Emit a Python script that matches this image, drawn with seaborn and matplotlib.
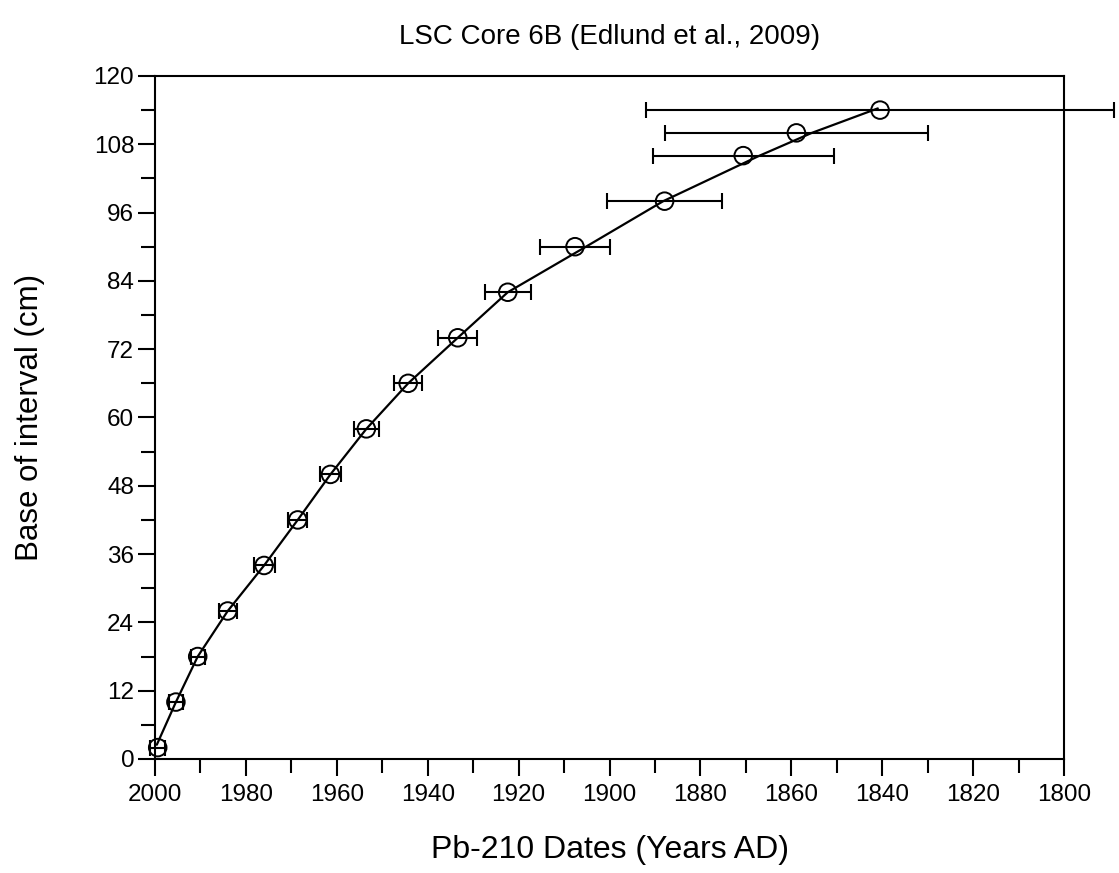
import numpy as np
import pandas as pd
import seaborn as sns
import matplotlib.pyplot as plt
from matplotlib.ticker import MultipleLocator

# Pb-210 dated intervals
depth = [2, 10, 18, 26, 34, 42, 50, 58, 66, 74, 82, 90, 98, 106, 110, 114]
year = [1999.4, 1995.4, 1990.6, 1984.0, 1976.0, 1968.6, 1961.4, 1953.5,
        1944.3, 1933.4, 1922.4, 1907.6, 1887.9, 1870.6, 1858.9, 1840.5]
year_err = [1.6, 1.6, 1.5, 2.0, 2.3, 2.1, 2.4, 2.75,
            3.1, 4.3, 5.1, 7.6, 12.6, 19.9, 28.9, 51.5]

# age-depth model curve
model_depth = [2.5, 10, 18, 26, 34, 42, 50, 58, 66, 74, 82, 90, 98, 106, 110, 114.3]
model_year = [1999.6, 1995.4, 1990.6, 1984.0, 1976.0, 1968.6, 1961.4, 1953.5,
              1944.3, 1933.4, 1922.4, 1905.2, 1888.2, 1867.0, 1855.5, 1841.0]

df = pd.DataFrame({'year': year, 'depth': depth, 'err': year_err})
df_model = pd.DataFrame({'year': model_year, 'depth': model_depth})

sns.set_theme(style='ticks')
plt.rcParams['font.family'] = ['Liberation Sans', 'DejaVu Sans']

fig = plt.figure(figsize=(11.19, 8.73), dpi=100)
ax = fig.add_axes([0.1385, 0.1306, 0.8125, 0.7824])

# error bars (not clipped, the oldest one runs past the frame)
ax.errorbar(df['year'], df['depth'], xerr=df['err'], fmt='none',
            ecolor='black', elinewidth=1.5, capsize=6, capthick=1.5,
            clip_on=False, zorder=2)

sns.lineplot(data=df_model, x='year', y='depth', sort=False, ax=ax,
             color='black', linewidth=1.6, zorder=3)

sns.scatterplot(data=df, x='year', y='depth', ax=ax, marker='o', s=160,
                facecolor='none', edgecolor='black', linewidth=1.4,
                zorder=4, clip_on=False)

ax.set_xlim(2000, 1800)
ax.set_ylim(0, 120)
ax.xaxis.set_major_locator(MultipleLocator(20))
ax.xaxis.set_minor_locator(MultipleLocator(10))
ax.yaxis.set_major_locator(MultipleLocator(12))
ax.yaxis.set_minor_locator(MultipleLocator(6))

for s in ax.spines.values():
    s.set_visible(True)
    s.set_color('black')
    s.set_linewidth(1.5)

ax.tick_params(which='major', length=12, width=1.5, color='black',
               labelsize=17.5, labelcolor='black')
ax.tick_params(which='minor', length=10, width=1.5, color='black')
ax.tick_params(axis='x', which='major', pad=6)
ax.tick_params(axis='y', which='major', pad=3)

ax.set_xlabel('Pb-210 Dates (Years AD)', fontsize=23, labelpad=21, color='black')
ax.set_ylabel('Base of interval (cm)', fontsize=22.5, labelpad=35, color='black')
ax.set_title('LSC Core 6B (Edlund et al., 2009)', fontsize=20, pad=23, color='black')

fig.savefig('out.png', dpi=100)
